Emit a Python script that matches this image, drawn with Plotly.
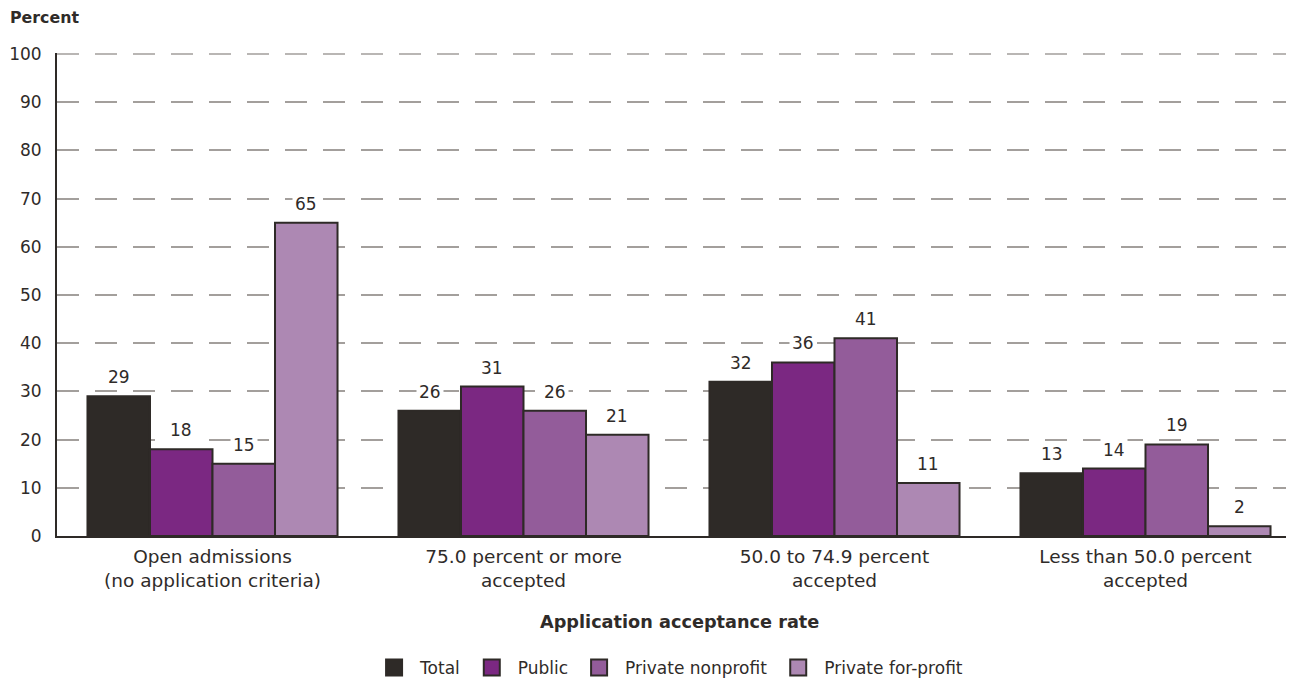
import plotly.graph_objects as go

categories = ["Open admissions<br>(no application criteria)",
              "75.0 percent or more<br>accepted",
              "50.0 to 74.9 percent<br>accepted",
              "Less than 50.0 percent<br>accepted"]
series_names = ["Total", "Public", "Private nonprofit", "Private for-profit"]
total = [29, 26, 32, 13]
public = [18, 31, 36, 14]
private_nonprofit = [15, 26, 41, 19]
private_forprofit = [65, 21, 11, 2]
y_ticks = [0, 10, 20, 30, 40, 50, 60, 70, 80, 90, 100]

colors = ["#2e2a27", "#7b2882", "#935c9a", "#ad88b3"]
outline = "#2e2a27"
grid_col = "#a39f9c"
FONT = "DejaVu Sans, sans-serif"
TXT = "#2f2b29"

W = 0.201  # bar width in category units
fig = go.Figure()
xs = list(range(len(categories)))
all_series = [total, public, private_nonprofit, private_forprofit]
for i, (name, vals, col) in enumerate(zip(series_names, all_series, colors)):
    off = (i - 2) * W
    fig.add_trace(go.Bar(
        x=xs, y=vals, name=name, width=W, offset=off,
        marker=dict(color=col, line=dict(color=outline, width=2)),
        showlegend=False))
    fig.add_trace(go.Scatter(
        x=[None], y=[None], mode="markers", name=name,
        marker=dict(symbol="square", size=25, color=col, line=dict(color=outline, width=2)),
        showlegend=True))
    for xc, v in zip(xs, vals):
        fig.add_annotation(x=xc + off + W / 2, y=v, xref="x", yref="y", text=str(v),
                           showarrow=False, yanchor="bottom", yshift=6,
                           bgcolor="white", borderpad=2,
                           font=dict(family=FONT, size=17, color=TXT))

fig.update_layout(
    width=1286, height=676,
    margin=dict(l=49, r=0, t=45, b=148, autoexpand=False),
    plot_bgcolor="white", paper_bgcolor="white",
    barmode="overlay",
    font=dict(family=FONT, size=17, color=TXT),
    legend=dict(orientation="h", x=0.494, xanchor="center", y=-0.273, yanchor="middle",
                font=dict(family=FONT, size=17, color=TXT), itemwidth=42,
                tracegroupgap=0, bgcolor="rgba(0,0,0,0)"),
)
fig.update_xaxes(
    range=[-0.5, -0.5 + 1237 / 311], tickvals=xs, ticktext=categories,
    showline=True, linecolor=outline, linewidth=2, ticks="", showgrid=False,
    ticklabelstandoff=3,
    tickfont=dict(family=FONT, size=18.5, color=TXT), zeroline=False, fixedrange=True)
fig.update_yaxes(
    range=[0, 100.2], tickvals=y_ticks, showline=True, linecolor=outline, linewidth=2,
    showgrid=True, gridcolor=grid_col, gridwidth=1.5, griddash="22px,16px",
    ticks="", ticklabelstandoff=10, tickfont=dict(family=FONT, size=17, color=TXT),
    zeroline=False, fixedrange=True)

# top gridline at 100 (Plotly omits gridlines at the plot edge)
fig.add_shape(type="line", xref="paper", yref="y", x0=0, x1=1, y0=100, y1=100,
              line=dict(color=grid_col, width=1.5, dash="22px,16px"), layer="below")

fig.add_annotation(text="<b>Percent</b>", xref="paper", yref="paper", x=-49/1237, y=1 + 36/483,
                   xanchor="left", yanchor="middle", showarrow=False,
                   font=dict(family=FONT, size=15.8, color=TXT))
fig.add_annotation(text="<b>Application acceptance rate</b>", xref="x", yref="paper", x=1.5,
                   y=-86/483, xanchor="center", yanchor="middle", showarrow=False,
                   font=dict(family=FONT, size=17.7, color=TXT))

fig.write_html("out.html")
